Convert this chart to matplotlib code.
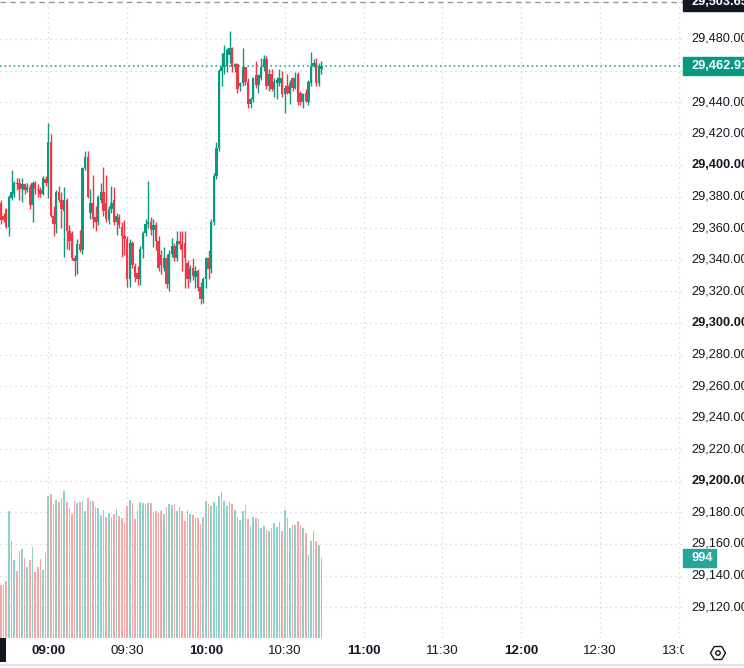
#!/usr/bin/env python3
import numpy as np
import matplotlib
matplotlib.use("Agg")
import matplotlib.pyplot as plt
from matplotlib.patches import Rectangle, RegularPolygon, Circle
from matplotlib.lines import Line2D
from matplotlib.transforms import blended_transform_factory, Bbox


# 1-minute candles, 08:42 .. 10:44 (minutes relative to 09:00)
minutes = np.arange(-18, 105)

opens = [
    29376, 29368, 29372, 29361, 29379, 29382, 29389, 29389, 29385, 29388,
    29384, 29386, 29375, 29389, 29385, 29384, 29382, 29391,
    29389, 29415, 29368, 29363, 29383, 29378, 29371, 29378, 29358, 29357,
    29341, 29339, 29350, 29346, 29398, 29405, 29370, 29376, 29367, 29364,
    29378, 29383, 29376, 29365, 29372, 29378, 29364, 29367, 29361, 29355,
    29353, 29328, 29351, 29336, 29332, 29328, 29347, 29357, 29363, 29364,
    29359, 29362, 29352, 29343, 29335, 29341, 29325, 29344, 29349, 29341,
    29352, 29350, 29351, 29338, 29328, 29335, 29329, 29333, 29323, 29315,
    29328, 29341, 29334, 29364, 29393, 29411, 29460, 29462, 29463, 29470,
    29474, 29462, 29464, 29450, 29452, 29462, 29453, 29439, 29442, 29457,
    29451, 29455, 29462, 29467, 29450, 29458, 29448, 29452, 29452, 29455,
    29445, 29450, 29445, 29455, 29449, 29458, 29446, 29440, 29446, 29440,
    29452, 29463, 29465, 29452, 29461,
]
highs = [
    29378, 29370, 29373, 29381, 29397, 29390, 29392, 29392, 29392, 29389,
    29389, 29388, 29390, 29390, 29388, 29386, 29393, 29393,
    29427, 29420, 29374, 29384, 29387, 29383, 29386, 29379, 29362, 29358,
    29343, 29353, 29359, 29399, 29409, 29409, 29385, 29394, 29374, 29381,
    29389, 29399, 29394, 29374, 29387, 29386, 29370, 29369, 29364, 29365,
    29355, 29353, 29352, 29338, 29336, 29349, 29358, 29366, 29390, 29367,
    29366, 29364, 29355, 29346, 29348, 29344, 29346, 29354, 29351, 29358,
    29358, 29358, 29358, 29340, 29337, 29341, 29336, 29334, 29326, 29329,
    29342, 29346, 29366, 29395, 29415, 29461, 29471, 29476, 29474, 29485,
    29475, 29465, 29465, 29453, 29474, 29462, 29455, 29443, 29456, 29466,
    29458, 29468, 29470, 29469, 29461, 29461, 29455, 29456, 29461, 29460,
    29451, 29458, 29454, 29456, 29459, 29459, 29447, 29446, 29448, 29454,
    29472, 29467, 29468, 29465, 29466,
]
lows = [
    29363, 29364, 29360, 29355, 29378, 29380, 29384, 29378, 29377, 29382,
    29383, 29372, 29364, 29382, 29380, 29380, 29381, 29387,
    29379, 29367, 29355, 29357, 29377, 29360, 29342, 29347, 29346, 29340,
    29330, 29331, 29345, 29344, 29397, 29379, 29366, 29360, 29358, 29362,
    29376, 29368, 29364, 29363, 29370, 29362, 29356, 29360, 29342, 29343,
    29323, 29323, 29335, 29326, 29324, 29324, 29341, 29355, 29360, 29356,
    29348, 29346, 29333, 29331, 29333, 29322, 29320, 29342, 29339, 29339,
    29347, 29333, 29322, 29322, 29326, 29327, 29322, 29320, 29312, 29313,
    29322, 29328, 29332, 29362, 29391, 29409, 29450, 29458, 29459, 29465,
    29459, 29459, 29446, 29447, 29450, 29451, 29436, 29436, 29440, 29449,
    29446, 29454, 29460, 29448, 29447, 29447, 29443, 29442, 29450, 29443,
    29433, 29445, 29439, 29447, 29448, 29438, 29438, 29436, 29440, 29438,
    29450, 29462, 29450, 29450, 29458,
]
closes = [
    29365, 29365, 29361, 29380, 29383, 29389, 29388, 29385, 29388, 29384,
    29386, 29375, 29389, 29385, 29384, 29382, 29392, 29389,
    29415, 29368, 29363, 29383, 29378, 29372, 29378, 29358, 29352, 29341,
    29339, 29350, 29346, 29398, 29405, 29380, 29376, 29366, 29364, 29380,
    29383, 29371, 29366, 29372, 29376, 29364, 29368, 29362, 29355, 29353,
    29328, 29351, 29337, 29329, 29328, 29347, 29357, 29363, 29364, 29359,
    29362, 29352, 29335, 29337, 29341, 29325, 29344, 29349, 29341, 29352,
    29350, 29346, 29341, 29328, 29335, 29330, 29333, 29322, 29315, 29328,
    29341, 29334, 29364, 29393, 29411, 29460, 29462, 29471, 29473, 29474,
    29462, 29464, 29448, 29452, 29462, 29453, 29439, 29442, 29455, 29451,
    29457, 29462, 29467, 29450, 29458, 29448, 29453, 29454, 29455, 29445,
    29449, 29446, 29452, 29449, 29455, 29440, 29440, 29445, 29441, 29453,
    29463, 29465, 29452, 29463, 29462.91,
]
volumes = [
    659, 659, 708, 1578, 1206, 970, 833, 1081, 1106, 994,
    882, 970, 1131, 820, 882, 982, 845, 1069,
    1765, 1790, 1666, 1715, 1690, 1740, 1827, 1690, 1616, 1541,
    1703, 1678, 1690, 1703, 1578, 1740, 1703, 1703, 1628, 1616,
    1529, 1591, 1504, 1554, 1504, 1541, 1603, 1516, 1492, 1429,
    1641, 1715, 1678, 1479, 1591, 1690, 1678, 1666, 1678, 1678,
    1566, 1578, 1554, 1578, 1541, 1628, 1666, 1653, 1666, 1578,
    1628, 1578, 1454, 1591, 1541, 1529, 1492, 1492, 1417, 1504,
    1703, 1666, 1641, 1690, 1641, 1765, 1815, 1703, 1641, 1690,
    1666, 1591, 1504, 1467, 1578, 1653, 1479, 1392, 1504, 1492,
    1479, 1367, 1392, 1342, 1330, 1367, 1429, 1380, 1442, 1330,
    1591, 1492, 1367, 1404, 1404, 1454, 1404, 1367, 1305, 1032,
    1206, 1330, 1206, 1156, 994,
]

price_ticks = [29120, 29140, 29160, 29180, 29200, 29220, 29240, 29260, 29280,
               29300, 29320, 29340, 29360, 29380, 29400, 29420, 29440, 29460, 29480]
price_bold = [29200, 29300, 29400]
time_ticks = [0, 30, 60, 90, 120, 150, 180, 210, 240]
time_labels = ["09:00", "09:30", "10:00", "10:30", "11:00", "11:30", "12:00", "12:30", "13:00"]
time_bold = ["09:00", "10:00", "11:00", "12:00"]
last_price = 29462.91
high_marker = 29503.65
last_volume = 994

UP = "#089981"
DOWN = "#f23645"
VOL_UP = "#8ed1c8"
VOL_DOWN = "#f7a6a4"
GRID = "#d1d4dc"
TEXT = "#131722"

W, H = 744, 668
PLOT_W, PLOT_H = 684, 638
FS = 9.2

plt.rcParams["font.family"] = ["Liberation Sans", "DejaVu Sans"]

fig = plt.figure(figsize=(W / 100, H / 100), dpi=100)
ax = fig.add_axes([0, 1 - PLOT_H / H, PLOT_W / W, PLOT_H / H])
ax.set_xlim(-18.39, 242.0)
ymin, ymax = 29100.4, 29504.7
ax.set_ylim(ymin, ymax)
ax.axis("off")

for p in price_ticks:
    ax.axhline(p, color=GRID, lw=0.9, ls=(0, (1, 3)), zorder=0)
for t in time_ticks:
    ax.axvline(t, color=GRID, lw=0.9, ls=(0, (1, 3)), zorder=0)

# volume pane shares the lower part of the chart
axv = ax.twinx()
axv.set_ylim(0, last_volume * PLOT_H / 80)
axv.axis("off")
vol_colors = [VOL_UP if c >= o else VOL_DOWN for o, c in zip(opens, closes)]
axv.bar(minutes, volumes, width=0.62, color=vol_colors, linewidth=0, zorder=1)

# candles
for m, o, h, l, c in zip(minutes, opens, highs, lows, closes):
    col = UP if c >= o else DOWN
    ax.vlines(m, l, h, color=col, lw=1.0, zorder=3)
    body = max(abs(c - o), 0.7)
    ax.bar(m, body, bottom=min(o, c), width=0.9, color=col, linewidth=0, zorder=4)

ax.axhline(last_price, color=UP, lw=1.1, ls=(0, (1, 2)), zorder=5)
ax.axhline(high_marker, color="#9598a1", lw=1.0, ls=(0, (4, 3)), zorder=5)

# right price scale (the label under the last-price tag is hidden, as in the app)
ptrans = blended_transform_factory(ax.transAxes, ax.transData)
px_unit = (ymax - ymin) / PLOT_H
for p in price_ticks:
    if abs(p - last_price) * PLOT_H / (ymax - ymin) < 12:
        continue
    ax.text(691 / PLOT_W, p, f"{p:,.2f}", transform=ptrans, fontsize=FS,
            color=TEXT, va="center", ha="left", clip_on=False,
            fontweight="bold" if p in price_bold else "normal")


def price_tag(axis, y, label, bg, unit, width=62, bold=True):
    tr = blended_transform_factory(axis.transAxes, axis.transData)
    hgt = 18 * unit
    axis.add_patch(Rectangle((683 / PLOT_W, y - hgt / 2), width / PLOT_W, hgt,
                             transform=tr, color=bg, clip_on=False, zorder=10))
    axis.text(691 / PLOT_W, y, label, transform=tr, fontsize=FS, color="white",
              va="center", ha="left", clip_on=False, zorder=11,
              fontweight="bold" if bold else "normal")


price_tag(ax, last_price, f"{last_price:,.2f}", UP, px_unit)
price_tag(ax, high_marker, f"{high_marker:,.2f}", "#131722", px_unit)
vol_unit = (last_volume * PLOT_H / 80) / PLOT_H
price_tag(axv, last_volume, str(last_volume), "#26a69a", vol_unit, width=33)

# time scale
ttrans = blended_transform_factory(ax.transData, ax.transAxes)
clip = Bbox.from_extents(0, 0, PLOT_W, H)
for t, lab in zip(time_ticks, time_labels):
    txt = ax.text(t, -13 / PLOT_H, lab, transform=ttrans, fontsize=9.6, color=TEXT,
                  ha="center", va="center", clip_on=True,
                  fontweight="bold" if lab in time_bold else "normal")
    txt.set_clip_box(clip)

# bottom decorations
fig.add_artist(Rectangle((0, (H - 662) / 100), 0.06, 0.24, transform=fig.dpi_scale_trans,
                         color="#131722", lw=0))
fig.add_artist(Line2D([0, 1], [1 - 665 / H] * 2, transform=fig.transFigure,
                      color="#e0e3eb", lw=1.5))
fig.add_artist(RegularPolygon((7.18, (H - 653) / 100), 6, radius=0.075,
                              orientation=np.pi / 6, transform=fig.dpi_scale_trans,
                              fill=False, ec=TEXT, lw=1.0))
fig.add_artist(Circle((7.18, (H - 653) / 100), 0.022, transform=fig.dpi_scale_trans,
                      fill=False, ec=TEXT, lw=1.0))

fig.savefig("out.png", dpi=100, facecolor="white")
